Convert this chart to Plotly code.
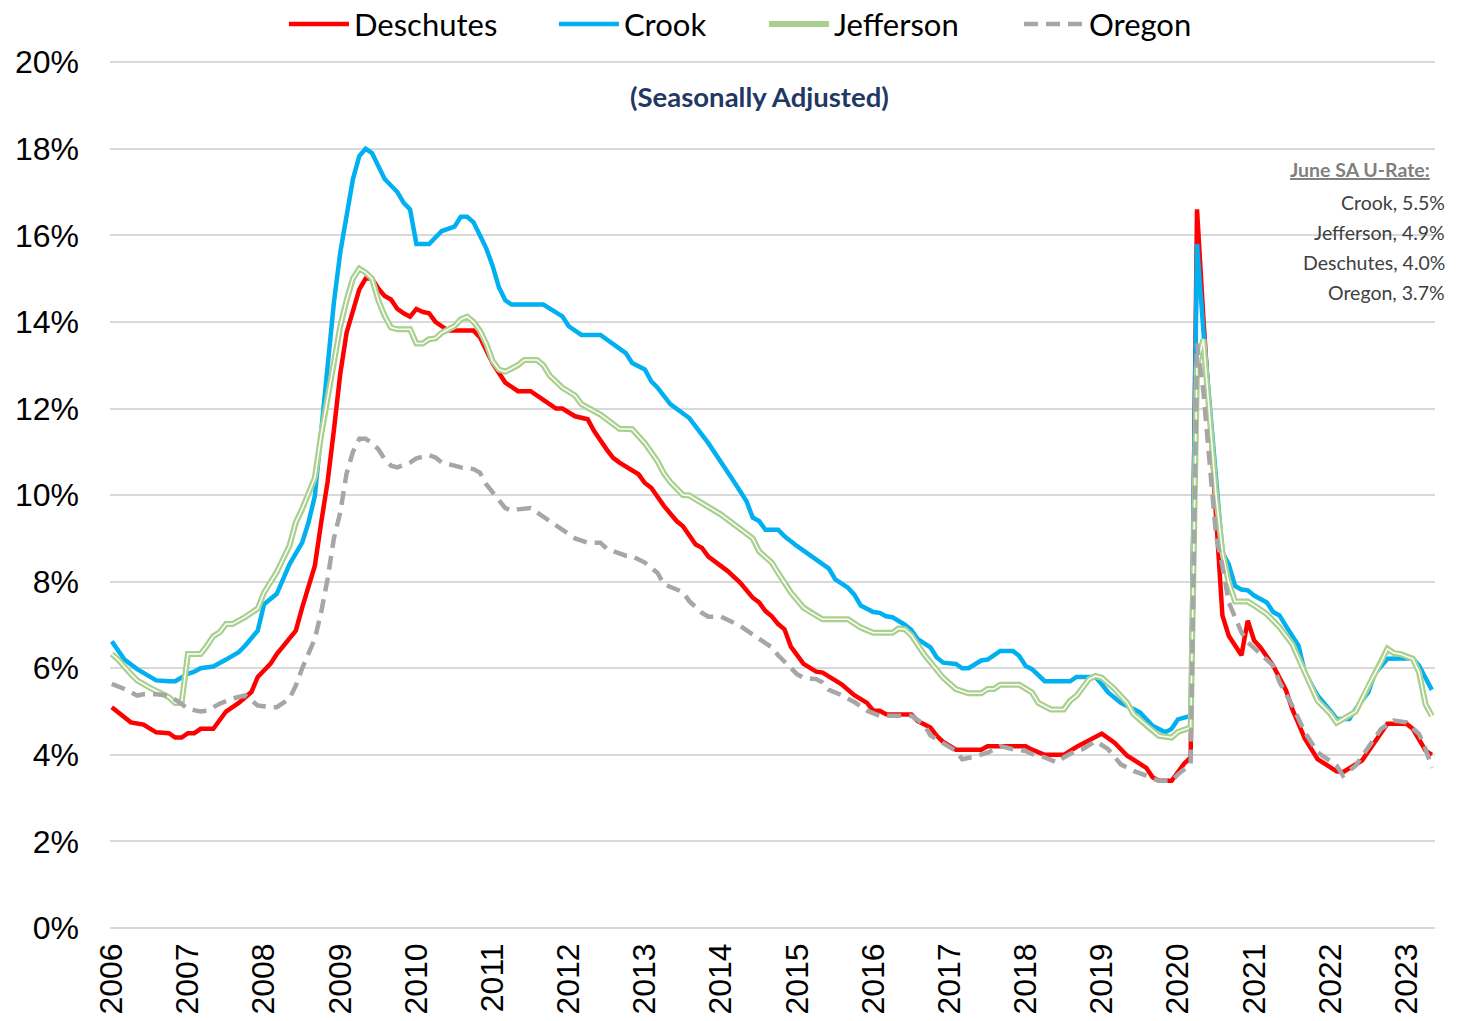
import plotly.graph_objects as go

# Central Oregon unemployment rates, seasonally adjusted (%)
# x values are months since Jan 2006
YEARS = [str(y) for y in range(2006, 2024)]
Y_TICKS = list(range(0, 21, 2))

DESCHUTES_M = [0, 3, 5, 7, 9, 10, 11, 12, 13, 14, 16, 17, 18, 20, 22, 23, 25, 26, 27, 29,
               30, 32, 33, 34, 35, 36, 37, 38, 39, 40, 41, 42, 43, 44, 45, 46, 47, 48, 49, 50,
               51, 52, 53, 57, 58, 60, 62, 64, 66, 68, 70, 71, 73, 75, 76, 78, 79, 80, 83, 84,
               85, 87, 89, 90, 92, 93, 94, 97, 99, 101, 102, 103, 104, 105, 106, 107, 108, 109, 111, 112,
               115, 117, 119, 120, 121, 122, 126, 127, 129, 130, 131, 133, 137, 138, 144, 145, 147, 150, 152, 156,
               158, 160, 163, 164, 165, 167, 168, 169, 170, 171, 172, 173, 174, 175, 176, 178, 179, 180, 181, 183,
               185, 186, 188, 190, 193, 194, 197, 199, 201, 204, 205, 207, 208]
DESCHUTES_V = [5.1, 4.75, 4.7, 4.52, 4.5, 4.4, 4.4, 4.5, 4.5, 4.6, 4.6, 4.8, 5.0, 5.2, 5.45, 5.8, 6.1, 6.33, 6.52, 6.87,
               7.4, 8.37, 9.37, 10.3, 11.5, 12.8, 13.75, 14.25, 14.75, 15.0, 15.0, 14.77, 14.6, 14.52, 14.3, 14.2, 14.12, 14.3, 14.23, 14.2,
               14.0, 13.9, 13.8, 13.8, 13.65, 13.05, 12.6, 12.4, 12.4, 12.2, 12.0, 12.0, 11.82, 11.75, 11.48, 11.05, 10.86, 10.75, 10.48, 10.28,
               10.17, 9.75, 9.4, 9.28, 8.86, 8.78, 8.58, 8.25, 7.98, 7.63, 7.52, 7.32, 7.2, 7.02, 6.9, 6.5, 6.3, 6.1, 5.92, 5.9,
               5.63, 5.38, 5.2, 5.02, 5.02, 4.94, 4.93, 4.78, 4.63, 4.44, 4.3, 4.12, 4.12, 4.2, 4.2, 4.12, 4.0, 4.0, 4.18, 4.49,
               4.28, 3.98, 3.7, 3.48, 3.4, 3.4, 3.6, 3.8, 3.94, 16.6, 14.1, 11.7, 9.4, 7.22, 6.75, 6.3, 7.1, 6.64, 6.48, 6.06,
               5.5, 5.06, 4.37, 3.9, 3.62, 3.6, 3.87, 4.3, 4.72, 4.72, 4.6, 4.1, 4.0]

CROOK_M = [0, 2, 4, 7, 9, 10, 12, 13, 14, 16, 18, 20, 21, 23, 24, 26, 27, 28, 30, 31,
           32, 33, 35, 36, 38, 39, 40, 41, 42, 43, 45, 46, 47, 48, 50, 51, 52, 54, 55, 56,
           57, 58, 59, 60, 61, 62, 63, 68, 71, 72, 74, 77, 79, 81, 82, 84, 85, 86, 88, 91,
           94, 96, 98, 100, 101, 102, 103, 105, 106, 108, 110, 113, 114, 116, 117, 118, 120, 121, 122, 123,
           125, 126, 127, 129, 130, 131, 133, 134, 135, 137, 138, 140, 142, 143, 144, 145, 147, 151, 152, 155,
           156, 157, 159, 162, 164, 166, 167, 168, 170, 171, 172, 173, 174, 175, 176, 177, 178, 179, 180, 182,
           183, 184, 185, 187, 188, 190, 192, 193, 195, 196, 198, 199, 201, 203, 205, 206, 207, 208]
CROOK_V = [6.62, 6.2, 5.98, 5.72, 5.7, 5.7, 5.87, 5.92, 6.0, 6.04, 6.2, 6.37, 6.52, 6.87, 7.48, 7.72, 8.06, 8.4, 8.9, 9.37,
           9.98, 11.5, 14.45, 15.6, 17.3, 17.83, 18.0, 17.9, 17.6, 17.3, 17.0, 16.75, 16.6, 15.8, 15.8, 15.95, 16.1, 16.2, 16.43, 16.43,
           16.3, 16.0, 15.7, 15.3, 14.8, 14.5, 14.4, 14.4, 14.13, 13.9, 13.7, 13.7, 13.5, 13.28, 13.05, 12.9, 12.63, 12.48, 12.1, 11.78,
           11.2, 10.78, 10.32, 9.86, 9.48, 9.4, 9.2, 9.2, 9.05, 8.82, 8.6, 8.3, 8.05, 7.86, 7.7, 7.45, 7.3, 7.28, 7.2, 7.18,
           7.0, 6.88, 6.67, 6.48, 6.25, 6.13, 6.1, 6.0, 6.0, 6.18, 6.2, 6.4, 6.4, 6.28, 6.05, 5.98, 5.7, 5.7, 5.8, 5.8,
           5.63, 5.44, 5.2, 4.98, 4.67, 4.52, 4.6, 4.82, 4.9, 15.8, 13.8, 12.0, 10.2, 8.68, 8.4, 7.9, 7.82, 7.8, 7.68, 7.52,
           7.3, 7.22, 6.98, 6.52, 5.9, 5.37, 5.02, 4.83, 4.83, 5.06, 5.45, 5.87, 6.22, 6.22, 6.23, 6.06, 5.75, 5.5]

JEFFERSON_M = [0, 1, 3, 4, 6, 7, 9, 10, 11, 12, 14, 15, 16, 17, 18, 19, 21, 23, 24, 26,
               28, 29, 30, 32, 33, 35, 36, 37, 38, 39, 40, 41, 42, 43, 44, 45, 47, 48, 49, 50,
               51, 52, 54, 55, 56, 57, 58, 59, 60, 61, 62, 64, 65, 67, 68, 69, 71, 73, 74, 77,
               80, 82, 84, 86, 87, 88, 90, 91, 93, 96, 99, 101, 102, 104, 105, 106, 107, 109, 110, 112,
               116, 118, 120, 123, 124, 125, 126, 128, 131, 133, 135, 137, 138, 139, 140, 143, 145, 146, 148, 150,
               151, 152, 154, 155, 156, 158, 160, 161, 163, 165, 167, 168, 170, 171, 172, 173, 174, 175, 176, 177,
               179, 180, 182, 184, 186, 188, 190, 192, 193, 196, 198, 200, 201, 202, 203, 205, 206, 207, 208]
JEFFERSON_V = [6.33, 6.2, 5.87, 5.72, 5.55, 5.48, 5.33, 5.2, 5.2, 6.33, 6.33, 6.52, 6.74, 6.83, 7.02, 7.02, 7.18, 7.38, 7.75, 8.22,
               8.83, 9.37, 9.68, 10.4, 11.4, 13.06, 13.9, 14.5, 15.0, 15.23, 15.14, 15.0, 14.5, 14.14, 13.87, 13.83, 13.83, 13.5, 13.5, 13.6,
               13.62, 13.75, 13.9, 14.06, 14.12, 14.0, 13.8, 13.5, 13.1, 12.9, 12.85, 13.0, 13.12, 13.12, 13.0, 12.76, 12.48, 12.3, 12.1, 11.86,
               11.53, 11.52, 11.2, 10.78, 10.5, 10.3, 10.0, 9.99, 9.82, 9.55, 9.22, 9.0, 8.7, 8.44, 8.2, 7.98, 7.75, 7.4, 7.3, 7.13,
               7.13, 6.94, 6.82, 6.82, 6.92, 6.9, 6.76, 6.32, 5.78, 5.52, 5.42, 5.42, 5.52, 5.52, 5.62, 5.62, 5.44, 5.2, 5.05, 5.05,
               5.25, 5.36, 5.75, 5.82, 5.78, 5.52, 5.2, 4.94, 4.68, 4.44, 4.4, 4.53, 4.63, 13.0, 13.6, 11.8, 10.0, 8.68, 7.98, 7.54,
               7.54, 7.45, 7.25, 6.95, 6.56, 5.9, 5.25, 4.95, 4.74, 5.0, 5.6, 6.14, 6.45, 6.35, 6.33, 6.22, 5.9, 5.17, 4.9]

OREGON_M = [0, 2, 4, 5, 7, 9, 11, 12, 14, 15, 17, 19, 21, 22, 23, 25, 26, 28, 29, 30,
            32, 33, 34, 35, 36, 37, 38, 39, 40, 41, 42, 43, 44, 45, 47, 48, 50, 51, 52, 54,
            55, 57, 58, 59, 61, 62, 63, 64, 66, 67, 70, 73, 75, 77, 78, 81, 82, 84, 86, 87,
            90, 91, 93, 94, 96, 99, 101, 104, 105, 107, 108, 109, 111, 112, 113, 115, 117, 119, 121, 126,
            128, 129, 131, 133, 134, 136, 138, 140, 142, 144, 145, 147, 149, 150, 152, 153, 155, 157, 159, 161,
            163, 165, 167, 168, 170, 171, 172, 173, 174, 175, 176, 178, 179, 181, 183, 184, 186, 188, 190, 193,
            194, 196, 198, 200, 202, 204, 206, 207, 208]
OREGON_V = [5.64, 5.52, 5.37, 5.4, 5.4, 5.37, 5.18, 5.06, 5.0, 5.02, 5.18, 5.3, 5.37, 5.25, 5.14, 5.1, 5.1, 5.3, 5.6, 6.0,
            6.68, 7.3, 8.06, 9.0, 9.6, 10.5, 11.0, 11.3, 11.3, 11.2, 11.06, 10.83, 10.68, 10.64, 10.75, 10.85, 10.92, 10.87, 10.75, 10.68,
            10.64, 10.6, 10.52, 10.25, 9.9, 9.7, 9.64, 9.67, 9.7, 9.6, 9.28, 9.0, 8.9, 8.9, 8.76, 8.6, 8.59, 8.44, 8.2, 7.94,
            7.76, 7.55, 7.28, 7.19, 7.19, 6.98, 6.78, 6.48, 6.3, 6.0, 5.86, 5.78, 5.75, 5.67, 5.5, 5.38, 5.22, 5.02, 4.9, 4.9,
            4.7, 4.45, 4.28, 4.09, 3.9, 3.96, 4.05, 4.2, 4.13, 4.09, 4.02, 3.94, 3.82, 3.94, 4.1, 4.13, 4.32, 4.13, 3.78, 3.63,
            3.52, 3.4, 3.4, 3.55, 3.78, 13.5, 12.4, 10.8, 9.06, 8.37, 7.52, 6.83, 6.6, 6.33, 6.06, 5.68, 5.14, 4.52, 4.06, 3.75,
            3.52, 3.75, 4.18, 4.6, 4.79, 4.75, 4.48, 4.14, 3.7]

RED = "#FF0000"
BLUE = "#00B0F0"
GREEN = "#A9D08E"
GRAY = "#A6A6A6"

fig = go.Figure()

fig.add_trace(go.Scatter(x=DESCHUTES_M, y=DESCHUTES_V, name="Deschutes", mode="lines",
                         legendwidth=195, line=dict(color=RED, width=4.5)))
fig.add_trace(go.Scatter(x=CROOK_M, y=CROOK_V, name="Crook", mode="lines",
                         legendwidth=135, line=dict(color=BLUE, width=4.5)))
# Jefferson is drawn as a double line: wide green with a thin white core
fig.add_trace(go.Scatter(x=JEFFERSON_M, y=JEFFERSON_V, name="Jefferson", mode="lines",
                         legendwidth=180, line=dict(color=GREEN, width=6)))
fig.add_trace(go.Scatter(x=JEFFERSON_M, y=JEFFERSON_V, mode="lines", showlegend=False,
                         hoverinfo="skip", line=dict(color="white", width=1.5)))
fig.add_trace(go.Scatter(x=OREGON_M, y=OREGON_V, name="Oregon", mode="lines",
                         line=dict(color=GRAY, width=4.5, dash="14px,8px")))

fig.update_layout(
    width=1458, height=1021,
    margin=dict(l=110, r=23, t=60, b=93, autoexpand=False),
    plot_bgcolor="white", paper_bgcolor="white",
    font=dict(family="Liberation Sans, Arial", color="black"),
    legend=dict(orientation="h", x=0.1313, xanchor="left", y=1.041, yanchor="middle",
                font=dict(family="Lato", size=31, color="black"),
                itemwidth=60, bgcolor="rgba(0,0,0,0)"),
)

fig.update_xaxes(
    range=[-0.28, 208.5],
    tickvals=[12 * i for i in range(len(YEARS))], ticktext=YEARS,
    tickangle=-90, tickfont=dict(size=32), ticklabelstandoff=8,
    showgrid=False, zeroline=False, showline=False, ticks="",
)
fig.update_yaxes(
    range=[0, 20.05],
    tickvals=Y_TICKS, ticktext=[f"{v}%" for v in Y_TICKS],
    tickfont=dict(size=32), ticklabelstandoff=30,
    showgrid=True, gridcolor="#D9D9D9", gridwidth=1.5,
    zeroline=True, zerolinecolor="#D9D9D9", zerolinewidth=1.5,
    showline=False, ticks="",
)

fig.add_annotation(xref="paper", yref="paper", x=0.49, y=0.958, yanchor="middle",
                   showarrow=False, text="<b>(Seasonally Adjusted)</b>",
                   font=dict(family="Lato", size=27.5, color="#1F3864"))

# June values block, ordered high to low
latest = [("Crook", CROOK_V[-1]), ("Jefferson", JEFFERSON_V[-1]),
          ("Deschutes", DESCHUTES_V[-1]), ("Oregon", OREGON_V[-1])]
latest.sort(key=lambda t: -t[1])

fig.add_annotation(xref="paper", yref="paper", x=0.998, y=0.874, xanchor="right",
                   yanchor="middle", showarrow=False, text="<b><u>June SA U-Rate:</u></b>",
                   font=dict(family="Lato", size=19.5, color="#7F7F7F"))
for i, (name, val) in enumerate(latest):
    fig.add_annotation(xref="paper", yref="paper", x=1.009, y=0.836 - i * 0.0345,
                       xanchor="right", yanchor="middle", showarrow=False,
                       text=f"{name}, {val:.1f}%",
                       font=dict(family="Lato", size=19.5, color="#404040"))

# drop the default page margin so the figure sits at the window origin
fig.write_html("out.html", config={"displayModeBar": False},
               post_script="document.body.style.margin='0';")
